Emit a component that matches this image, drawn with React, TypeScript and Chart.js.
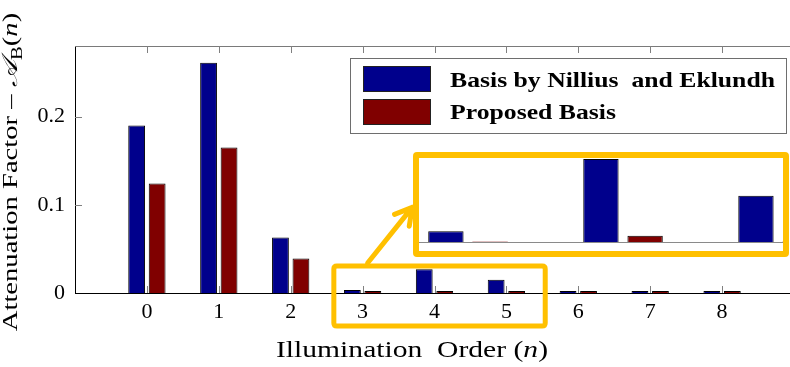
import React, { useEffect, useRef } from "react";
import { Chart, registerables } from "chart.js";

Chart.register(...registerables);

// ---- data ----
const illuminationOrders = [0, 1, 2, 3, 4, 5, 6, 7, 8];
const nilliusEklundh = [0.19, 0.261, 0.063, 0.0035, 0.027, 0.015, 0.001, 0.001, 0.001];
const proposedBasis = [0.124, 0.165, 0.039, 0.0001, 0.002, 0.0001, 0.001, 0.001, 0.001];
const yTickValues = [0, 0.1, 0.2];
const seriesNames = ["Basis by Nillius  and Eklundh", "Proposed Basis"];
const zoomedOrders = [3, 4, 5];

// ---- style ----
const BLUE = "#00008C";
const RED = "#800000";
const YELLOW = "#FFC000";
const SERIF = "'Liberation Serif'";

const X_RANGE = [-1, 9];
const Y_RANGE = [0, 0.28];
const INSET_X_RANGE = [2.684, 5.032];
const INSET_Y_RANGE = [0, 0.0273];
const ZOOM_BOX = { x0: 2.6, x1: 5.54, y0: -0.0373, y1: 0.0305 };
const ARROW = { x0: 3.07, y0: 0.034, x1: 3.69, y1: 0.097 };

type Piece = { t: string; italic?: boolean; bold?: boolean; rel?: number; dy?: number; family?: string };

function drawRich(
  ctx: CanvasRenderingContext2D,
  pieces: Piece[],
  size: number,
  px: number,
  py: number,
  opts: { rotate?: boolean; targetW?: number; align?: "center" | "left" } = {}
) {
  ctx.save();
  ctx.translate(px, py);
  if (opts.rotate) ctx.rotate(-Math.PI / 2);
  const fontOf = (p: Piece) =>
    `${p.italic ? "italic " : ""}${p.bold ? "bold " : ""}${Math.round(size * (p.rel ?? 1))}px ${p.family ?? SERIF}`;
  let total = 0;
  const widths = pieces.map((p) => {
    ctx.font = fontOf(p);
    const w = ctx.measureText(p.t).width;
    total += w;
    return w;
  });
  const sx = opts.targetW ? Math.min(1.3, Math.max(0.8, opts.targetW / total)) : 1;
  ctx.scale(sx, 1);
  let x = opts.align === "left" ? 0 : -total / 2;
  ctx.fillStyle = "#000";
  ctx.textBaseline = "alphabetic";
  ctx.textAlign = "left";
  pieces.forEach((p, i) => {
    ctx.font = fontOf(p);
    ctx.fillText(p.t, x, (p.dy ?? 0) * size);
    x += widths[i];
  });
  ctx.restore();
}

function roundRect(ctx: CanvasRenderingContext2D, x0: number, y0: number, x1: number, y1: number, r: number) {
  ctx.beginPath();
  ctx.moveTo(x0 + r, y0);
  ctx.lineTo(x1 - r, y0);
  ctx.quadraticCurveTo(x1, y0, x1, y0 + r);
  ctx.lineTo(x1, y1 - r);
  ctx.quadraticCurveTo(x1, y1, x1 - r, y1);
  ctx.lineTo(x0 + r, y1);
  ctx.quadraticCurveTo(x0, y1, x0, y1 - r);
  ctx.lineTo(x0, y0 + r);
  ctx.quadraticCurveTo(x0, y0, x0 + r, y0);
  ctx.closePath();
}

const decorPlugin = {
  id: "decor",
  afterDraw(chart: any) {
    const ctx: CanvasRenderingContext2D = chart.ctx;
    const ca = chart.chartArea;
    const xs = chart.scales.x;
    const ys = chart.scales.y;
    ctx.save();
    // top border
    ctx.strokeStyle = "#7a7a7a";
    ctx.lineWidth = 1;
    ctx.beginPath();
    ctx.moveTo(ca.left, ca.top + 0.5);
    ctx.lineTo(ca.right, ca.top + 0.5);
    ctx.stroke();
    // inward ticks
    ctx.strokeStyle = "#808080";
    ctx.beginPath();
    illuminationOrders.forEach((v) => {
      const x = Math.round(xs.getPixelForValue(v)) + 0.5;
      ctx.moveTo(x, ca.top);
      ctx.lineTo(x, ca.top + 7);
      ctx.moveTo(x, ca.bottom);
      ctx.lineTo(x, ca.bottom - 7);
    });
    yTickValues.slice(1).forEach((v) => {
      const y = Math.round(ys.getPixelForValue(v)) + 0.5;
      ctx.moveTo(ca.left, y);
      ctx.lineTo(ca.left + 7, y);
    });
    ctx.stroke();

    // legend
    const lr = ca.right - 7;
    const lt = ca.top + 12;
    const ll = lr - 437;
    ctx.fillStyle = "#fff";
    ctx.fillRect(ll, lt, lr - ll, 76);
    ctx.strokeStyle = "#6e6e6e";
    ctx.lineWidth = 1;
    ctx.strokeRect(ll + 0.5, lt + 0.5, lr - ll - 1, 75);
    const colors = [BLUE, RED];
    const swTops = [lt + 8, lt + 41];
    const baselines = [lt + 29, lt + 61];
    ctx.font = `bold 21px ${SERIF}`;
    const w0 = ctx.measureText(seriesNames[0]).width;
    const sx = 325 / w0;
    seriesNames.forEach((name, i) => {
      ctx.fillStyle = colors[i];
      ctx.fillRect(ll + 13, swTops[i], 68, 26);
      ctx.strokeStyle = "#222";
      ctx.strokeRect(ll + 13.5, swTops[i] + 0.5, 67, 25);
      ctx.save();
      ctx.translate(ll + 100, baselines[i]);
      ctx.scale(sx, 1);
      ctx.fillStyle = "#000";
      ctx.font = `bold 21px ${SERIF}`;
      ctx.textAlign = "left";
      ctx.textBaseline = "alphabetic";
      ctx.fillText(name, 0, 0);
      ctx.restore();
    });

    // zoom box
    ctx.strokeStyle = YELLOW;
    ctx.lineWidth = 5;
    roundRect(
      ctx,
      xs.getPixelForValue(ZOOM_BOX.x0),
      ys.getPixelForValue(ZOOM_BOX.y1),
      xs.getPixelForValue(ZOOM_BOX.x1),
      ys.getPixelForValue(ZOOM_BOX.y0),
      3
    );
    ctx.stroke();
    // arrow
    const ax0 = xs.getPixelForValue(ARROW.x0);
    const ay0 = ys.getPixelForValue(ARROW.y0);
    const ax1 = xs.getPixelForValue(ARROW.x1);
    const ay1 = ys.getPixelForValue(ARROW.y1);
    const ang = Math.atan2(ay0 - ay1, ax0 - ax1);
    const len = 19;
    ctx.lineCap = "round";
    ctx.lineJoin = "round";
    ctx.beginPath();
    ctx.moveTo(ax0, ay0);
    ctx.lineTo(ax1, ay1);
    ctx.moveTo(ax1 + len * Math.cos(ang + 0.52), ay1 + len * Math.sin(ang + 0.52));
    ctx.lineTo(ax1, ay1);
    ctx.lineTo(ax1 + len * Math.cos(ang - 0.52), ay1 + len * Math.sin(ang - 0.52));
    ctx.stroke();
    ctx.restore();

    // axis titles
    drawRich(
      ctx,
      [{ t: "Illumination  Order (" }, { t: "n", italic: true }, { t: ")" }],
      23,
      412,
      357,
      { targetW: 272 }
    );
    drawRich(
      ctx,
      [
        { t: "Attenuation Factor \u2013 " },
        { t: "\u{1D49C}", italic: true, family: "'DejaVu Serif'" },
        { t: "B", rel: 0.72, dy: 0.22 },
        { t: "(" },
        { t: "n", italic: true },
        { t: ")" },
      ],
      22,
      17,
      172,
      { rotate: true, targetW: 340 }
    );
  },
};

const tickFont = { family: SERIF, size: 22 };

export default function App() {
  const mainRef = useRef<HTMLCanvasElement>(null);
  const insetRef = useRef<HTMLCanvasElement>(null);

  useEffect(() => {
    const main = new Chart(mainRef.current as HTMLCanvasElement, {
      type: "bar",
      data: {
        datasets: [
          {
            label: seriesNames[0],
            data: illuminationOrders.map((x, i) => ({ x, y: nilliusEklundh[i] })),
            backgroundColor: BLUE,
            borderColor: "#000",
            borderWidth: 1,
            categoryPercentage: 0.57,
            barPercentage: 0.82,
            minBarLength: 2,
          },
          {
            label: seriesNames[1],
            data: illuminationOrders.map((x, i) => ({ x, y: proposedBasis[i] })),
            backgroundColor: RED,
            borderColor: "#000",
            borderWidth: 1,
            categoryPercentage: 0.57,
            barPercentage: 0.82,
            minBarLength: 2,
          },
        ],
      } as any,
      options: {
        responsive: false,
        animation: false,
        devicePixelRatio: 1,
        layout: { padding: { top: 46, left: 0, right: 6, bottom: 0 } },
        plugins: { legend: { display: false }, tooltip: { enabled: false } },
        scales: {
          x: {
            type: "linear",
            min: X_RANGE[0],
            max: X_RANGE[1],
            offset: false,
            grid: { display: false, drawTicks: false, offset: false },
            border: { display: true, color: "#000", width: 1 },
            ticks: {
              padding: 6,
              color: "#000",
              font: tickFont,
              maxRotation: 0,
              autoSkip: false,
              callback: (v: any) => String(v),
            },
            afterBuildTicks: (s: any) => {
              s.ticks = illuminationOrders.map((value) => ({ value }));
            },
            afterFit: (s: any) => {
              s.height = 74;
            },
          },
          y: {
            min: Y_RANGE[0],
            max: Y_RANGE[1],
            grid: { display: false, drawTicks: false },
            border: { display: true, color: "#000", width: 1 },
            ticks: {
              padding: 10,
              color: "#000",
              font: tickFont,
              callback: (v: any) => (v === 0 ? "0" : Number(v).toFixed(1)),
            },
            afterBuildTicks: (s: any) => {
              s.ticks = yTickValues.map((value) => ({ value }));
            },
            afterFit: (s: any) => {
              s.width = 75;
            },
          },
        },
      } as any,
      plugins: [decorPlugin],
    });

    const insetIdx = zoomedOrders.map((o) => illuminationOrders.indexOf(o));
    const insetBorder = (c: any) => (c.raw && c.raw.y < 0.0005 ? 0 : 1);
    const inset = new Chart(insetRef.current as HTMLCanvasElement, {
      type: "bar",
      data: {
        datasets: [
          {
            data: insetIdx.map((i) => ({ x: illuminationOrders[i], y: nilliusEklundh[i] })),
            backgroundColor: BLUE,
            borderColor: "#000",
            borderWidth: insetBorder,
            categoryPercentage: 0.57,
            barPercentage: 0.8,
            clip: 0,
          },
          {
            data: insetIdx.map((i) => ({ x: illuminationOrders[i], y: proposedBasis[i] })),
            backgroundColor: RED,
            borderColor: "#000",
            borderWidth: insetBorder,
            categoryPercentage: 0.57,
            barPercentage: 0.8,
            clip: 0,
          },
        ],
      } as any,
      options: {
        responsive: false,
        animation: false,
        devicePixelRatio: 1,
        layout: { padding: { top: 0, left: 0, right: 0, bottom: 9 } },
        plugins: { legend: { display: false }, tooltip: { enabled: false } },
        scales: {
          x: {
            type: "linear",
            min: INSET_X_RANGE[0],
            max: INSET_X_RANGE[1],
            offset: false,
            grid: { display: false, drawTicks: false, offset: false },
            border: { display: true, color: "#8a8a8a", width: 1 },
            ticks: { display: false },
            afterBuildTicks: (s: any) => {
              s.ticks = zoomedOrders.map((value) => ({ value }));
            },
            afterFit: (s: any) => {
              s.height = 0;
            },
          },
          y: {
            display: false,
            min: INSET_Y_RANGE[0],
            max: INSET_Y_RANGE[1],
          },
        },
      } as any,
    });

    return () => {
      main.destroy();
      inset.destroy();
    };
  }, []);

  return (
    <div
      style={{
        position: "fixed",
        left: 0,
        top: 0,
        width: 790,
        height: 367,
        overflow: "hidden",
        background: "#fff",
      }}
    >
      <canvas
        ref={mainRef}
        width={800}
        height={367}
        style={{ position: "absolute", left: 0, top: 0, width: 800, height: 367 }}
      />
      <div
        style={{
          position: "absolute",
          left: 413,
          top: 152,
          width: 376,
          height: 105,
          boxSizing: "border-box",
          border: `6px solid ${YELLOW}`,
          borderRadius: 4,
          background: "#fff",
        }}
      >
        <canvas ref={insetRef} width={364} height={93} style={{ display: "block", width: 364, height: 93 }} />
      </div>
    </div>
  );
}
